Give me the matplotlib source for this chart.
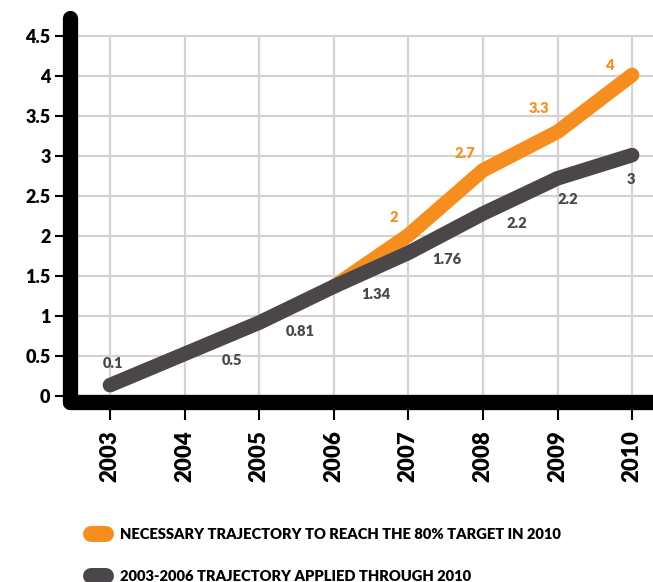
import matplotlib
matplotlib.use("Agg")
import matplotlib.pyplot as plt
from matplotlib.lines import Line2D

# values
years = [2003, 2004, 2005, 2006, 2007, 2008, 2009, 2010]
applied = [0.14, 0.53, 0.92, 1.37, 1.79, 2.28, 2.72, 3.01]
applied_labels = ["0.1", "0.5", "0.81", "1.34", "1.76", "2.2", "2.2", "3"]
target_years = [2006, 2007, 2008, 2009, 2010]
target = [1.37, 2.01, 2.82, 3.30, 4.01]
target_labels = ["", "2", "2.7", "3.3", "4"]
yticks = [0, 0.5, 1, 1.5, 2, 2.5, 3, 3.5, 4, 4.5]
ytick_labels = ["0", "0.5", "1", "1.5", "2", "2.5", "3", "3.5", "4", "4.5"]
legend_labels = ["NECESSARY TRAJECTORY TO REACH THE 80% TARGET IN 2010",
                 "2003-2006 TRAJECTORY APPLIED THROUGH 2010"]

ORANGE = "#f68e1f"
GRAY = "#4b4649"
GRID = "#d3d3d3"
plt.rcParams["font.family"] = ["Lato", "DejaVu Sans"]

fig = plt.figure(figsize=(6.53, 5.82), dpi=100)
ax = fig.add_axes([70/653, 1 - 402/582, 583/653, 384/582])
ax.set_xlim(2002.464, 2010.28)
ax.set_ylim(-0.07, 4.72)

# grid
ax.set_yticks(yticks)
ax.yaxis.grid(True, color=GRID, lw=1.6, zorder=0)
ax.vlines(years, -0.07, yticks[-1], color=GRID, lw=1.6, zorder=0)
ax.set_axisbelow(True)

ax.plot(target_years, target, color=ORANGE, lw=10.5, solid_capstyle="round",
        solid_joinstyle="round", zorder=3)
ax.plot(years, applied, color=GRAY, lw=10.5, solid_capstyle="round",
        solid_joinstyle="round", zorder=4)

# value labels (offsets in pixels)
applied_off = [(3, 22), (47, -7), (41, -9), (42, -8), (38, -7), (34, -10), (10, -21), (-1, -24)]
for x, y, s, o in zip(years, applied, applied_labels, applied_off):
    ax.annotate(s, (x, y), xytext=o, textcoords="offset pixels", ha="center", va="center",
                fontsize=10.5, fontweight="heavy", color=GRAY, zorder=5)
target_off = [(0, 0), (-15, 18), (-18, 17), (-19, 23), (-23, 9)]
for x, y, s, o in zip(target_years, target, target_labels, target_off):
    if s:
        ax.annotate(s, (x, y), xytext=o, textcoords="offset pixels", ha="center", va="center",
                    fontsize=10.5, fontweight="heavy", color=ORANGE, zorder=5)

# axes styling
for side in ["top", "right"]:
    ax.spines[side].set_visible(False)
for side in ["left", "bottom"]:
    ax.spines[side].set_linewidth(11)
    ax.spines[side].set_color("black")
    ax.spines[side].set_capstyle("round")
    ax.spines[side].set_joinstyle("round")
    ax.spines[side].set_zorder(6)

ax.set_yticklabels(ytick_labels)
ax.set_xticks(years)
ax.set_xticklabels([str(y) for y in years], rotation=90)
ax.tick_params(axis="y", length=11, width=1.5, pad=3, labelsize=13, colors="black")
ax.tick_params(axis="x", length=13, width=1.5, pad=7, labelsize=16, colors="black")
for lab in ax.get_xticklabels() + ax.get_yticklabels():
    lab.set_fontweight("heavy")

handles = [Line2D([], [], color=ORANGE, lw=11.5, solid_capstyle="round"),
           Line2D([], [], color=GRAY, lw=11.5, solid_capstyle="round")]
fig.legend(handles, legend_labels, loc="upper left", bbox_to_anchor=(91/653, 1 - 528/582),
           frameon=False, handlelength=1.0, handletextpad=1.0, labelspacing=1.95,
           prop={"weight": "heavy", "size": 10.6}, borderaxespad=0, borderpad=0)

fig.savefig("out.png", dpi=100)
